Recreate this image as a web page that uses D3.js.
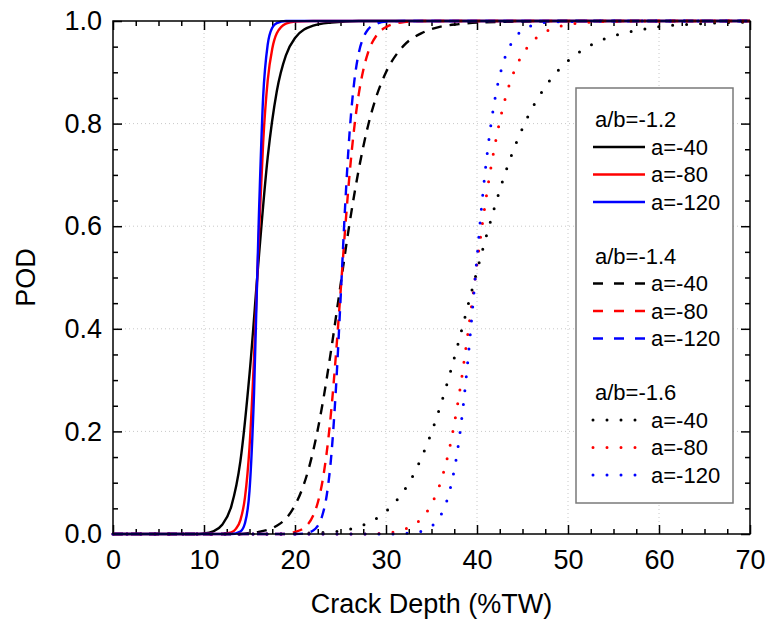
<html>
<head>
<script src="https://d3js.org/d3.v7.min.js"></script>
<style>
  body { margin: 0; background: #fff; }
  text { font-family: "Liberation Sans", Arial, sans-serif; fill: #000; }
</style>
</head>
<body>
<svg id="chart" width="769" height="627"></svg>
<script>
// POD values: [crack depth %TW, POD]
var pod12_40 = [[0,0],[9,0],[10,0.001],[11,0.005],[12,0.018],[13,0.054],[14,0.142],[15,0.311],[16,0.534],[17,0.734],[18,0.863],[19,0.933],[20,0.967],[22,0.991],[24,0.997],[27,1],[70,1]];
var pod12_80 = [[0,0],[12,0],[13,0.003],[13.5,0.010],[14,0.027],[14.5,0.071],[15,0.169],[15.5,0.344],[16,0.568],[16.5,0.763],[17,0.884],[17.5,0.946],[18,0.976],[19,0.995],[20,0.999],[22,1],[70,1]];
var pod12_120 = [[0,0],[13,0],[14,0.005],[14.5,0.021],[15,0.084],[15.5,0.275],[16,0.601],[16.5,0.852],[17,0.954],[17.5,0.987],[18,0.996],[19,1],[70,1]];

var pod14_40 = [[0,0],[14,0],[15,0.002],[16,0.004],[17,0.008],[18,0.016],[19,0.030],[20,0.056],[21,0.098],[22,0.162],[23,0.251],[24,0.362],[25,0.485],[26,0.606],[27,0.710],[28,0.794],[29,0.856],[30,0.900],[32,0.953],[34,0.977],[36,0.989],[38,0.994],[40,0.997],[45,0.999],[50,1],[70,1]];
var pod14_80 = [[0,0],[19,0],[20,0.004],[21,0.012],[22,0.036],[22.5,0.061],[23,0.101],[23.5,0.161],[24,0.244],[24.5,0.350],[25,0.470],[25.5,0.592],[26,0.702],[26.5,0.790],[27,0.857],[27.5,0.904],[28,0.937],[29,0.973],[30,0.988],[32,0.998],[34,1],[70,1]];
var pod14_120 = [[0,0],[20,0],[21,0.001],[22,0.007],[22.5,0.016],[23,0.036],[23.5,0.077],[24,0.155],[24.5,0.284],[25,0.455],[25.5,0.636],[26,0.783],[26.5,0.880],[27,0.937],[27.5,0.967],[28,0.983],[29,0.995],[30,0.999],[32,1],[70,1]];

var pod16_40 = [[0,0],[19,0],[20,0.001],[22,0.002],[24,0.004],[25,0.006],[26,0.009],[27,0.015],[28,0.021],[29,0.031],[30,0.044],[31,0.062],[32,0.085],[33,0.115],[34,0.153],[35,0.198],[36,0.251],[37,0.311],[38,0.376],[39,0.445],[40,0.513],[41,0.579],[42,0.641],[43,0.698],[44,0.748],[45,0.791],[46,0.828],[47,0.858],[48,0.884],[50,0.922],[52,0.948],[54,0.965],[56,0.976],[58,0.983],[60,0.989],[65,0.995],[70,0.998]];
var pod16_80 = [[0,0],[28,0],[29,0.001],[30,0.002],[31,0.004],[32,0.009],[33,0.017],[34,0.032],[35,0.058],[36,0.101],[37,0.169],[38,0.267],[39,0.391],[39.5,0.458],[40,0.526],[40.5,0.593],[41,0.655],[42,0.761],[43,0.842],[44,0.898],[45,0.935],[46,0.958],[47,0.974],[48,0.983],[50,0.993],[52,0.997],[54,0.999],[58,1],[70,1]];
var pod16_120 = [[0,0],[31,0],[32,0.001],[33,0.002],[34,0.006],[35,0.015],[36,0.036],[37,0.084],[38,0.180],[38.5,0.252],[39,0.339],[39.5,0.437],[40,0.539],[40.5,0.637],[41,0.723],[41.5,0.794],[42,0.851],[43,0.925],[44,0.963],[45,0.982],[46,0.991],[48,0.998],[50,0.999],[52,1],[70,1]];

var groupLabels = ["a/b=-1.2", "a/b=-1.4", "a/b=-1.6"];
var seriesLabels = ["a=-40", "a=-80", "a=-120"];
var groupData = [
  [pod12_40, pod12_80, pod12_120],
  [pod14_40, pod14_80, pod14_120],
  [pod16_40, pod16_80, pod16_120]
];
var xTicks = [0, 10, 20, 30, 40, 50, 60, 70];
var yTicks = [0, 0.2, 0.4, 0.6, 0.8, 1.0];

var colors = ["#000000", "#ff0000", "#0000ff"];
var dashes = [null, "10 8", "0 14"];

var svg = d3.select("#chart");
var plotLeft = 113, plotRight = 750, plotTop = 21, plotBottom = 534;

var x = d3.scaleLinear().domain([0, 70]).range([plotLeft, plotRight]);
var y = d3.scaleLinear().domain([0, 1]).range([plotBottom, plotTop]);

var xMinor = d3.range(0, 70.01, 2.5).filter(function(d) { return d % 10 !== 0; });
var yMinor = d3.range(0, 1.001, 0.05).map(function(d) { return +d.toFixed(2); })
  .filter(function(d) { return Math.abs(d * 5 - Math.round(d * 5)) > 1e-6; });

// dotted grid at major ticks
svg.append("g").selectAll("line").data(xTicks.slice(1, -1)).enter().append("line")
  .attr("x1", function(d) { return x(d); }).attr("x2", function(d) { return x(d); })
  .attr("y1", plotTop).attr("y2", plotBottom)
  .attr("stroke", "#c8c8c8").attr("stroke-width", 1).attr("stroke-dasharray", "1 3");
svg.append("g").selectAll("line").data(yTicks.slice(1, -1)).enter().append("line")
  .attr("y1", function(d) { return y(d); }).attr("y2", function(d) { return y(d); })
  .attr("x1", plotLeft).attr("x2", plotRight)
  .attr("stroke", "#c8c8c8").attr("stroke-width", 1).attr("stroke-dasharray", "1 3");

// axes, ticks pointing inward
function styleAxis(g) {
  g.select(".domain").remove();
  g.selectAll(".tick line").attr("stroke", "#000").attr("stroke-width", 1.5);
}
var xAxis = svg.append("g").attr("transform", "translate(0," + plotBottom + ")")
  .call(d3.axisBottom(x).tickValues(xTicks).tickSizeInner(-9).tickSizeOuter(0).tickPadding(16))
  .call(styleAxis);
xAxis.selectAll("text").style("font-size", "27px").attr("font-family", null);
svg.append("g").attr("transform", "translate(0," + plotBottom + ")")
  .call(d3.axisBottom(x).tickValues(xMinor).tickSizeInner(-5).tickFormat(""))
  .call(styleAxis);

var yAxis = svg.append("g").attr("transform", "translate(" + plotLeft + ",0)")
  .call(d3.axisLeft(y).tickValues(yTicks).tickFormat(d3.format(".1f")).tickSizeInner(-9).tickSizeOuter(0).tickPadding(11))
  .call(styleAxis);
yAxis.selectAll("text").style("font-size", "27px").attr("font-family", null);
svg.append("g").attr("transform", "translate(" + plotLeft + ",0)")
  .call(d3.axisLeft(y).tickValues(yMinor).tickSizeInner(-5).tickFormat(""))
  .call(styleAxis);

svg.append("g").attr("transform", "translate(0," + plotTop + ")")
  .call(d3.axisTop(x).tickValues(xTicks).tickSizeInner(-9).tickFormat(""))
  .call(styleAxis);
svg.append("g").attr("transform", "translate(0," + plotTop + ")")
  .call(d3.axisTop(x).tickValues(xMinor).tickSizeInner(-5).tickFormat(""))
  .call(styleAxis);
svg.append("g").attr("transform", "translate(" + plotRight + ",0)")
  .call(d3.axisRight(y).tickValues(yTicks).tickSizeInner(-9).tickFormat(""))
  .call(styleAxis);
svg.append("g").attr("transform", "translate(" + plotRight + ",0)")
  .call(d3.axisRight(y).tickValues(yMinor).tickSizeInner(-5).tickFormat(""))
  .call(styleAxis);

// curves
var line = d3.line()
  .x(function(d) { return x(d[0]); })
  .y(function(d) { return y(d[1]); })
  .curve(d3.curveMonotoneX);

groupData.forEach(function(group, gi) {
  group.forEach(function(data, si) {
    svg.append("path")
      .datum(data)
      .attr("d", line)
      .attr("fill", "none")
      .attr("stroke", colors[si])
      .attr("stroke-width", gi === 2 ? 3 : 2.4)
      .attr("stroke-linecap", gi === 2 ? "round" : "butt")
      .attr("stroke-dasharray", dashes[gi]);
  });
});

// frame
svg.append("rect")
  .attr("x", plotLeft).attr("y", plotTop)
  .attr("width", plotRight - plotLeft).attr("height", plotBottom - plotTop)
  .attr("fill", "none").attr("stroke", "#000").attr("stroke-width", 1.5);

// legend
var legend = svg.append("g");
legend.append("rect")
  .attr("x", 576).attr("y", 88).attr("width", 157).attr("height", 415)
  .attr("fill", "#fff").attr("stroke", "#7a7a7a").attr("stroke-width", 1.5);

groupLabels.forEach(function(label, gi) {
  var base = 127 + gi * 136.5;
  legend.append("text").attr("x", 595).attr("y", base)
    .style("font-size", "22px").text(label);
  seriesLabels.forEach(function(sl, si) {
    var ly = base + 20 + si * 27.5;
    legend.append("line")
      .attr("x1", 593).attr("x2", 645).attr("y1", ly).attr("y2", ly)
      .attr("stroke", colors[si])
      .attr("stroke-width", gi === 2 ? 3 : 2.6)
      .attr("stroke-linecap", gi === 2 ? "round" : "butt")
      .attr("stroke-dasharray", gi === 1 ? "10 11" : dashes[gi]);
    legend.append("text").attr("x", 651).attr("y", ly).attr("dy", "0.36em")
      .style("font-size", "22px").text(sl);
  });
});

// axis titles
svg.append("text")
  .attr("x", (plotLeft + plotRight) / 2).attr("y", 613)
  .attr("text-anchor", "middle").style("font-size", "27px")
  .text("Crack Depth (%TW)");
svg.append("text")
  .attr("transform", "translate(35," + ((plotTop + plotBottom) / 2) + ") rotate(-90)")
  .attr("text-anchor", "middle").style("font-size", "27px")
  .text("POD");
</script>
</body>
</html>
